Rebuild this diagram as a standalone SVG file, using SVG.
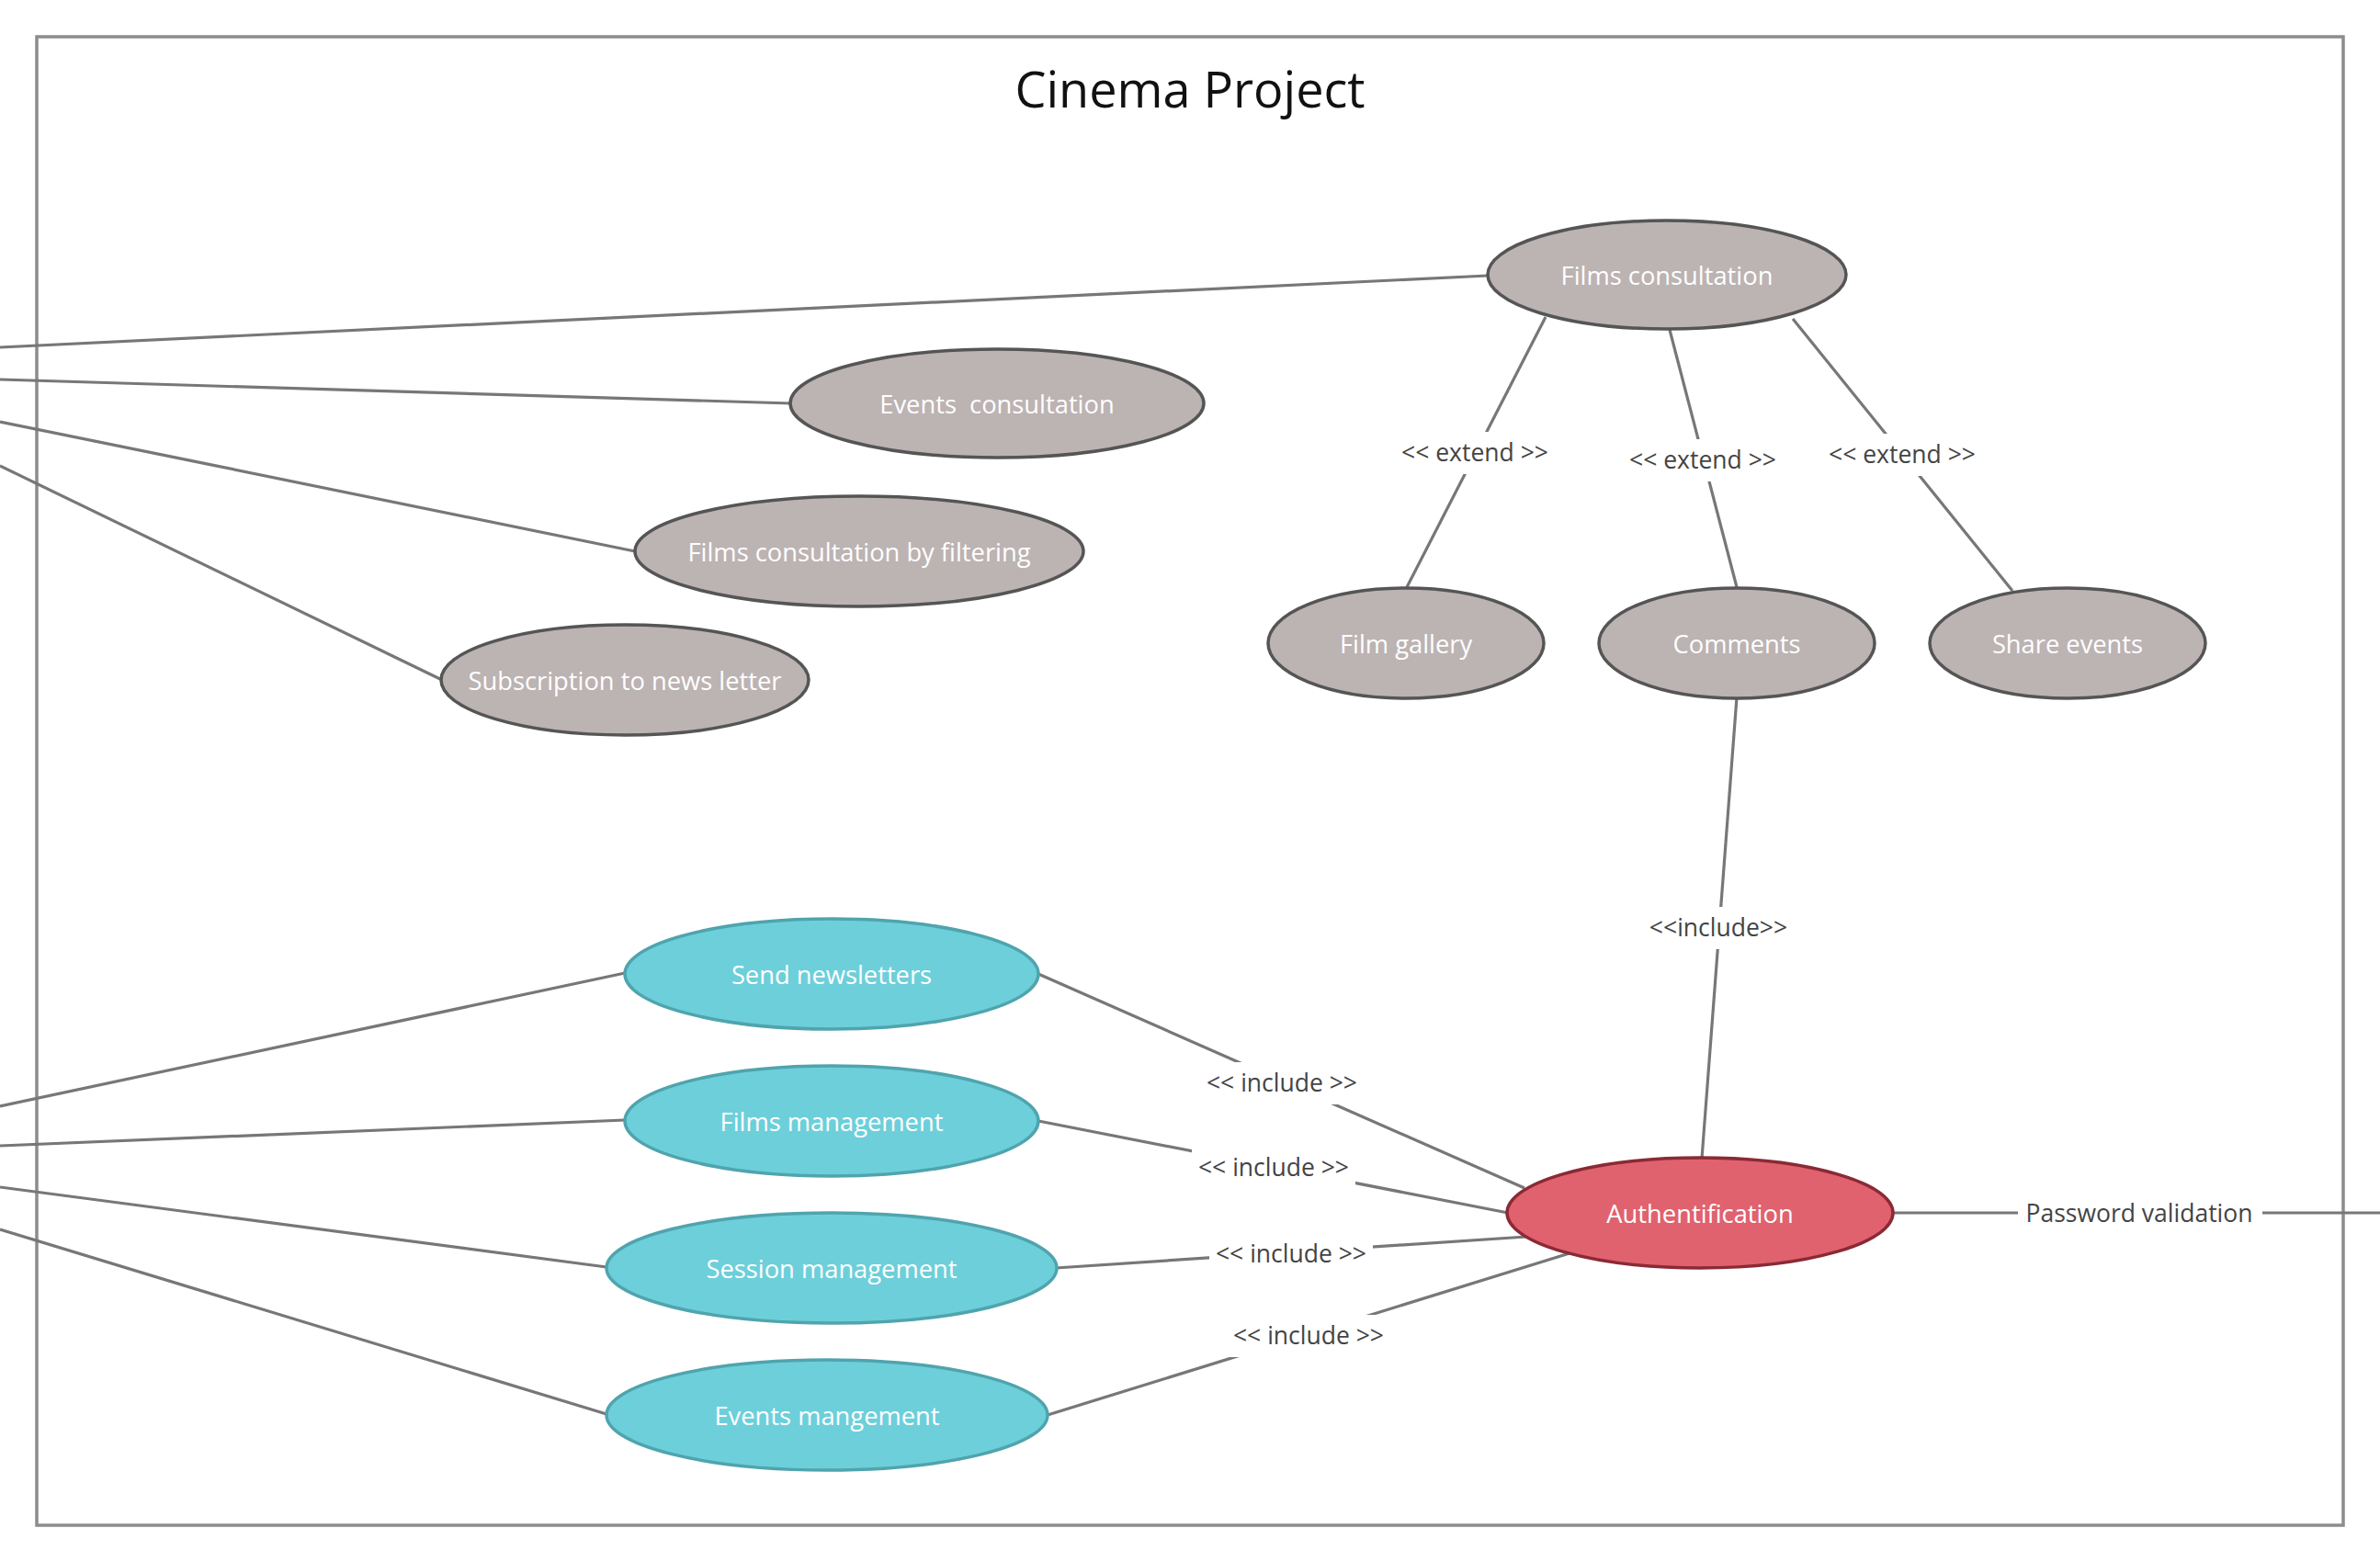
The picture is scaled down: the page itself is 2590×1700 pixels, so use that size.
<svg xmlns="http://www.w3.org/2000/svg" width="2590" height="1700" viewBox="0 0 2590 1700">
<style>
  .conn line { stroke:#777777; stroke-width:3.2; fill:none; }
  .lbl-bg { fill:#ffffff; }
  .lbl { font-family:"Open Sans","Noto Sans","DejaVu Sans",sans-serif; font-size:26.5px; fill:#444444; text-anchor:middle; }
  .node-text { font-family:"Open Sans","Noto Sans","DejaVu Sans",sans-serif; font-size:27.3px; fill:#ffffff; text-anchor:middle; }
  .gray { fill:#bcb3b3; stroke:#555555; stroke-width:3.5; }
  .blue { fill:#6dcfda; stroke:#4fa4ad; stroke-width:3.5; }
  .red { fill:#e0626e; stroke:#8a2a35; stroke-width:3.5; }
  .title { font-family:"Open Sans","Noto Sans","DejaVu Sans",sans-serif; font-size:54px; fill:#111111; text-anchor:middle; }
</style>
<rect x="0" y="0" width="2590" height="1700" fill="#ffffff"/>
<g id="frame">
  <rect x="40" y="40" width="2510" height="1620" fill="none" stroke="#8c8c8c" stroke-width="3.5"/>
  <text class="title" x="1295" y="117">Cinema Project</text>
</g>
<g id="connectors" class="conn">
  <line x1="0" y1="378" x2="1619" y2="300"/>
  <line x1="0" y1="413" x2="861" y2="439"/>
  <line x1="0" y1="459" x2="691" y2="600"/>
  <line x1="0" y1="507" x2="481" y2="740"/>
  <line x1="0" y1="1204" x2="680" y2="1059"/>
  <line x1="0" y1="1247" x2="680" y2="1219"/>
  <line x1="0" y1="1292" x2="660" y2="1379"/>
  <line x1="0" y1="1338" x2="660" y2="1539"/>
  <line x1="1682" y1="345" x2="1531" y2="639"/>
  <line x1="1817" y1="359" x2="1890" y2="639"/>
  <line x1="1951" y1="347" x2="2190" y2="643"/>
  <line x1="1890" y1="759" x2="1852" y2="1261"/>
  <line x1="1130" y1="1060" x2="1659" y2="1293"/>
  <line x1="1130" y1="1220" x2="1641" y2="1320"/>
  <line x1="1149" y1="1380" x2="1661" y2="1346"/>
  <line x1="1140" y1="1540" x2="1708" y2="1364"/>
  <line x1="2060" y1="1320" x2="2590" y2="1320"/>
  <rect class="lbl-bg" x="1519" y="470" width="172" height="46"/>
  <text class="lbl" x="1605" y="502">&lt;&lt; extend &gt;&gt;</text>
  <rect class="lbl-bg" x="1767" y="478" width="172" height="46"/>
  <text class="lbl" x="1853" y="510">&lt;&lt; extend &gt;&gt;</text>
  <rect class="lbl-bg" x="1984" y="472" width="172" height="46"/>
  <text class="lbl" x="2070" y="504">&lt;&lt; extend &gt;&gt;</text>
  <rect class="lbl-bg" x="1790" y="987" width="160" height="46"/>
  <text class="lbl" x="1870" y="1019">&lt;&lt;include&gt;&gt;</text>
  <rect class="lbl-bg" x="1306" y="1156" width="178" height="46"/>
  <text class="lbl" x="1395" y="1188">&lt;&lt; include &gt;&gt;</text>
  <rect class="lbl-bg" x="1297" y="1248" width="178" height="46"/>
  <text class="lbl" x="1386" y="1280">&lt;&lt; include &gt;&gt;</text>
  <rect class="lbl-bg" x="1316" y="1342" width="178" height="46"/>
  <text class="lbl" x="1405" y="1374">&lt;&lt; include &gt;&gt;</text>
  <rect class="lbl-bg" x="1335" y="1431" width="178" height="46"/>
  <text class="lbl" x="1424" y="1463">&lt;&lt; include &gt;&gt;</text>
  <rect class="lbl-bg" x="2196" y="1297" width="266" height="46"/>
  <text class="lbl" x="2328" y="1330">Password validation</text>
</g>
<g id="films-consultation">
  <ellipse class="gray" cx="1814" cy="299" rx="195" ry="59"/>
  <text class="node-text" x="1814" y="310">Films consultation</text>
</g>
<g id="events-consultation">
  <ellipse class="gray" cx="1085" cy="439" rx="225" ry="59"/>
  <text class="node-text" x="1085" y="450" xml:space="preserve">Events  consultation</text>
</g>
<g id="films-filtering">
  <ellipse class="gray" cx="935" cy="600" rx="244" ry="60"/>
  <text class="node-text" x="935" y="611">Films consultation by filtering</text>
</g>
<g id="subscription">
  <ellipse class="gray" cx="680" cy="740" rx="200" ry="60"/>
  <text class="node-text" x="680" y="751">Subscription to news letter</text>
</g>
<g id="film-gallery">
  <ellipse class="gray" cx="1530" cy="700" rx="150" ry="60"/>
  <text class="node-text" x="1530" y="711">Film gallery</text>
</g>
<g id="comments">
  <ellipse class="gray" cx="1890" cy="700" rx="150" ry="60"/>
  <text class="node-text" x="1890" y="711">Comments</text>
</g>
<g id="share-events">
  <ellipse class="gray" cx="2250" cy="700" rx="150" ry="60"/>
  <text class="node-text" x="2250" y="711">Share events</text>
</g>
<g id="send-newsletters">
  <ellipse class="blue" cx="905" cy="1060" rx="225" ry="60"/>
  <text class="node-text" x="905" y="1071">Send newsletters</text>
</g>
<g id="films-management">
  <ellipse class="blue" cx="905" cy="1220" rx="225" ry="60"/>
  <text class="node-text" x="905" y="1231">Films management</text>
</g>
<g id="session-management">
  <ellipse class="blue" cx="905" cy="1380" rx="245" ry="60"/>
  <text class="node-text" x="905" y="1391">Session management</text>
</g>
<g id="events-mangement">
  <ellipse class="blue" cx="900" cy="1540" rx="240" ry="60"/>
  <text class="node-text" x="900" y="1551">Events mangement</text>
</g>
<g id="authentification">
  <ellipse class="red" cx="1850" cy="1320" rx="210" ry="60"/>
  <text class="node-text" x="1850" y="1331">Authentification</text>
</g>
</svg>
